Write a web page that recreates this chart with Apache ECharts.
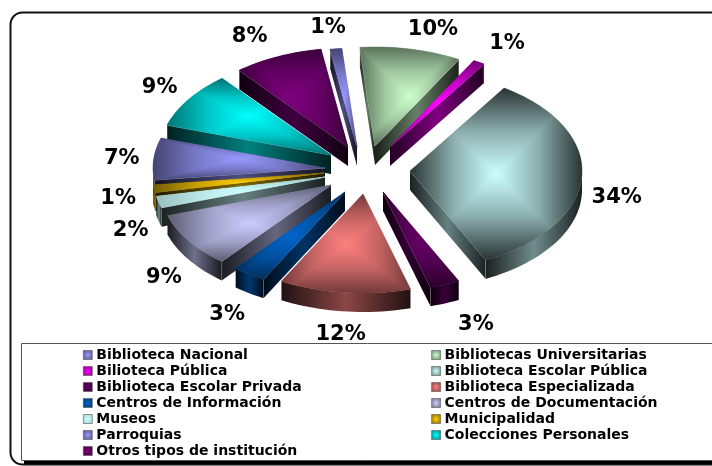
<!DOCTYPE html>
<html>
<head>
<meta charset="utf-8">
<style>html,body{margin:0;padding:0;background:#fff;overflow:hidden}#c{width:712px;height:466px}</style>
<script src="https://cdn.jsdelivr.net/npm/echarts@6/dist/echarts.min.js"></script>
</head>
<body>
<div id="c"></div>
<script>
// ---- data ----
const categories = ['Biblioteca Nacional','Bibliotecas Universitarias','Bilioteca Pública','Biblioteca Escolar Pública','Biblioteca Escolar Privada','Biblioteca Especializada','Centros de Información','Centros de Documentación','Museos','Municipalidad','Parroquias','Colecciones Personales','Otros tipos de institución'];
const values = [1.1, 9.5, 1.1, 33.5, 2.8, 12.3, 3.1, 9.0, 1.9, 1.2, 6.8, 9.2, 8.4];
const colors = ['#9999ff','#ccffcc','#ff00ff','#ccffff','#660066','#ff8080','#0066cc','#ccccff','#ccffff','#ffcc00','#9999ff','#00ffff','#800080'];

// ---- 3D pie projection settings ----
const pie = {cx:345, cy:168, rx:172, ry:99, depth:19, startDeg:-9};
const explodeX = [12,30,45,65,38,18,0,-14,-20,-21,-20,-14,3];
const explodeY = [-21,-22,-21,3,24,26,24,17,9,5,0,-13,-21];
const labelDx = [-8,22,28,35,31,-4,-22,-25,-28,-36,-32,-29,-28];
const labelDy = [-21,-20,-19,20,40,42,40,37,28,10,0,-12,-20];
const edgeShade = [.45,.45,.45,.2,.45,.45,.45,.45,.75,.45,.45,.45,.45];

const total = values.reduce((a,b)=>a+b,0);
const rad = d => d*Math.PI/180;
function rgb(hex){return [1,3,5].map(i=>parseInt(hex.substr(i,2),16));}
function shade(hex,f){return 'rgb('+rgb(hex).map(v=>Math.round(v*f)).join(',')+')';}
function LG(x0,y0,x1,y1,stops){return new echarts.graphic.LinearGradient(x0,y0,x1,y1,stops,true);}

function clipEdge(poly,a,b,s){
  const out=[]; const side=p=>s*((b[0]-a[0])*(p[1]-a[1])-(b[1]-a[1])*(p[0]-a[0]));
  for(let i=0;i<poly.length;i++){
    const p=poly[i],q=poly[(i+1)%poly.length],sp=side(p),sq=side(q);
    if(sp>=0) out.push(p);
    if((sp>=0)!==(sq>=0)){const t=sp/(sp-sq);out.push([p[0]+t*(q[0]-p[0]),p[1]+t*(q[1]-p[1])]);}
  }
  return out;
}
function clipTri(poly,t){
  let r=poly;
  const sgn=Math.sign((t[1][0]-t[0][0])*(t[2][1]-t[0][1])-(t[1][1]-t[0][1])*(t[2][0]-t[0][0]));
  for(let i=0;i<3&&r.length;i++) r=clipEdge(r,t[i],t[(i+1)%3],sgn);
  return r;
}
function wall(pts,hex,k){
  const xs=pts.map(p=>p[0]),x0=Math.min(...xs),x1=Math.max(...xs);
  return {type:'polygon',shape:{points:pts},style:{fill:LG(x0,0,x1+.01,0,[
    {offset:0,color:shade(hex,.13)},{offset:.5,color:shade(hex,k)},{offset:1,color:shade(hex,.13)}])}};
}
const cum=[]; values.reduce((a,v,i)=>{cum[i]=a;return a+v;},0);

function renderSlice(i,api){
  const hex=colors[i], v=api.value(0);
  const t1=pie.startDeg+cum[i]/total*360, t2=t1+v/total*360, tm=(t1+t2)/2;
  const ax=pie.cx+explodeX[i], ay=pie.cy+explodeY[i];
  const P=(t,dz=0)=>[ax+pie.rx*Math.sin(rad(t)), ay-pie.ry*Math.cos(rad(t))+dz];
  const arc=[]; const n=Math.max(2,Math.ceil((t2-t1)/2));
  for(let k=0;k<=n;k++) arc.push(P(t1+(t2-t1)*k/n));
  const A=[ax,ay], Ad=[ax,ay+pie.depth], d=pie.depth;
  const kids=[];
  const sin=t=>Math.sin(rad(t));
  const radial=t=>{
    const p=P(t),pd=P(t,d);
    kids.push(wall([A,p,pd,Ad],hex,.5));
    kids.push({type:'polyline',shape:{points:[A,p]},style:{stroke:'rgba(255,255,255,.75)',lineWidth:.7,fill:null}});
    kids.push({type:'polyline',shape:{points:[p,pd]},style:{stroke:'rgba(255,255,255,.6)',lineWidth:.7,fill:null}});
  };
  if(sin(t1)<0) radial(t1);
  if(sin(t2)>0) radial(t2);
  const a0=Math.max(t1,90), a1=Math.min(t2,270);
  if(a1>a0){
    const top=[],bot=[]; const m=Math.max(2,Math.ceil((a1-a0)/2));
    for(let k=0;k<=m;k++){const t=a0+(a1-a0)*k/m;top.push(P(t));bot.unshift(P(t,d));}
    kids.push(wall(top.concat(bot),hex,.55));
  }
  const poly=[A].concat(arc);
  const xs=poly.map(p=>p[0]), ys=poly.map(p=>p[1]);
  const x0=Math.min(...xs),x1=Math.max(...xs),y0=Math.min(...ys),y1=Math.max(...ys);
  const cx=(x0+x1)/2, cy=(y0+y1)/2, c=[cx,cy], e=edgeShade[i];
  const stops=[{offset:0,color:shade(hex,e)},{offset:.5,color:shade(hex,e+(1-e)*.6)},{offset:1,color:hex}];
  kids.push({type:'polygon',shape:{points:poly},style:{fill:shade(hex,(1+e)/2)}});
  const tris=[
    [[[x0,y0],[x1,y0],c],[cx,y0,cx,cy]],
    [[[x1,y0],[x1,y1],c],[x1,cy,cx,cy]],
    [[[x1,y1],[x0,y1],c],[cx,y1,cx,cy]],
    [[[x0,y1],[x0,y0],c],[x0,cy,cx,cy]]];
  tris.forEach(([t,g])=>{
    const r=clipTri(poly,t);
    if(r.length>2){
      const grad=LG(g[0],g[1],g[2]+(g[0]===g[2]?.001:0),g[3]+(g[1]===g[3]?.001:0),stops);
      kids.push({type:'polygon',shape:{points:r},style:{fill:grad,stroke:grad,lineWidth:.5}});
    }
  });
  const o=P(tm);
  kids.push({type:'text',z2:50,style:{text:Math.round(v)+'%',x:o[0]+labelDx[i],y:o[1]+labelDy[i],align:'center',verticalAlign:'middle',
    font:'bold 21px "DejaVu Sans"',fill:'#000'}});
  return {type:'group',children:kids};
}

const order=categories.map((_,i)=>i).sort((a,b)=>explodeY[a]-explodeY[b]);
const rank=[]; order.forEach((idx,r)=>rank[idx]=r);

const series=categories.map((name,i)=>({
  type:'custom',name,coordinateSystem:'none',silent:true,animation:false,z:5+rank[i],
  data:[[values[i]]],
  itemStyle:{color:new echarts.graphic.RadialGradient(.5,.5,.7,[{offset:0,color:colors[i]},{offset:1,color:shade(colors[i],i===8?.8:.5)}])},
  renderItem:(p,api)=>renderSlice(i,api)
}));

const chart=echarts.init(document.getElementById('c'),null,{renderer:'canvas'});
chart.setOption({
  animation:false,
  backgroundColor:'#fff',
  legend:{
    show:true,selectedMode:false,z:100,left:83,top:348,width:700,padding:0,
    itemWidth:9,itemHeight:9,itemGap:2,
    icon:'rect',
    data:categories,
    textStyle:{fontFamily:'DejaVu Sans',fontWeight:'bold',fontSize:14,color:'#000',width:333,lineHeight:13,padding:[0,0,0,-1]},
    itemStyle:{borderColor:'#555',borderWidth:.6}
  },
  graphic:[
    {type:'rect',z:1,silent:true,shape:{x:10.5,y:12.5,width:730,height:452,r:12},style:{fill:'#fff',stroke:'#111',lineWidth:2}},
    {type:'rect',z:90,silent:true,shape:{x:24,y:346,width:700,height:118},style:{fill:'#000'}},
    {type:'rect',z:91,silent:true,shape:{x:21.5,y:343.5,width:700,height:117},style:{fill:'#fff',stroke:'#555',lineWidth:1}}
  ],
  series
});
</script>
</body>
</html>
